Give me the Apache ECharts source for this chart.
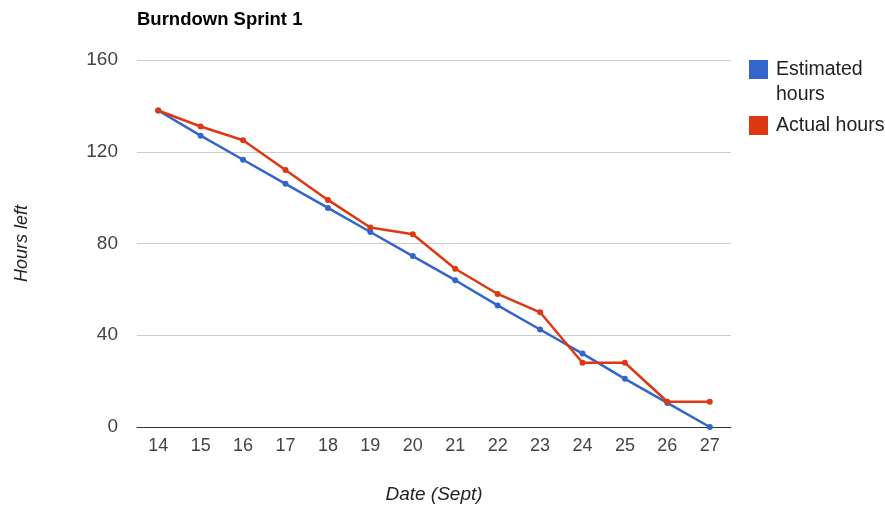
<!DOCTYPE html>
<html><head><meta charset="utf-8">
<script src="https://cdn.jsdelivr.net/npm/echarts@6/dist/echarts.min.js"></script>
<style>html,body{margin:0;padding:0;background:#fff}#c{width:885px;height:509px}</style>
</head><body><div id="c"></div>
<script>
const dates = ['14','15','16','17','18','19','20','21','22','23','24','25','26','27'];
const estimated = [138,127,116.5,106,95.5,85,74.5,64,53,42.5,32,21,10.5,0];
const actual = [138,131,125,112,99,87,84,69,58,50,28,28,11,11];
const yTicks = {min:0, max:160, interval:40};
const chart = echarts.init(document.getElementById('c'));
const F = '"Liberation Sans", Arial, sans-serif';
chart.setOption({
  animation:false,
  title:{text:'Burndown Sprint 1', left:132, top:5, textStyle:{fontFamily:F,fontSize:18.5,fontWeight:'bold',color:'#000'}},
  legend:{orient:'vertical', left:744, top:27, itemWidth:19, itemHeight:19, itemGap:6, icon:'rect',
    data:['Estimated hours','Actual hours'],
    formatter:function(n){return n==='Estimated hours'?' \nEstimated\nhours':n;},
    textStyle:{fontFamily:F,fontSize:19.5,color:'#222',lineHeight:25,padding:[0,0,0,3]}},
  grid:{left:137,right:154,top:60,bottom:82},
  xAxis:{type:'category',data:dates,boundaryGap:true,
    name:'Date (Sept)',nameLocation:'middle',nameGap:58,
    nameTextStyle:{fontFamily:F,fontSize:19,fontStyle:'italic',color:'#222'},
    axisLine:{lineStyle:{color:'#333',width:1}},axisTick:{show:false},
    axisLabel:{fontFamily:F,fontSize:18,color:'#444',margin:10}},
  yAxis:{type:'value',min:yTicks.min,max:yTicks.max,interval:yTicks.interval,
    name:'Hours left',nameLocation:'middle',nameGap:106,nameRotate:90,
    nameTextStyle:{fontFamily:F,fontSize:18,fontStyle:'italic',color:'#222'},
    axisLine:{show:false},axisTick:{show:false},
    splitLine:{lineStyle:{color:'#ccc',width:1}},
    axisLabel:{fontFamily:F,fontSize:19,color:'#444',margin:19}},
  series:[
    {name:'Estimated hours',type:'line',data:estimated,color:'#3366cc',symbol:'circle',symbolSize:6,lineStyle:{width:2.5}},
    {name:'Actual hours',type:'line',data:actual,color:'#dc3912',symbol:'circle',symbolSize:6,lineStyle:{width:2.5}}
  ]
});
</script></body></html>
